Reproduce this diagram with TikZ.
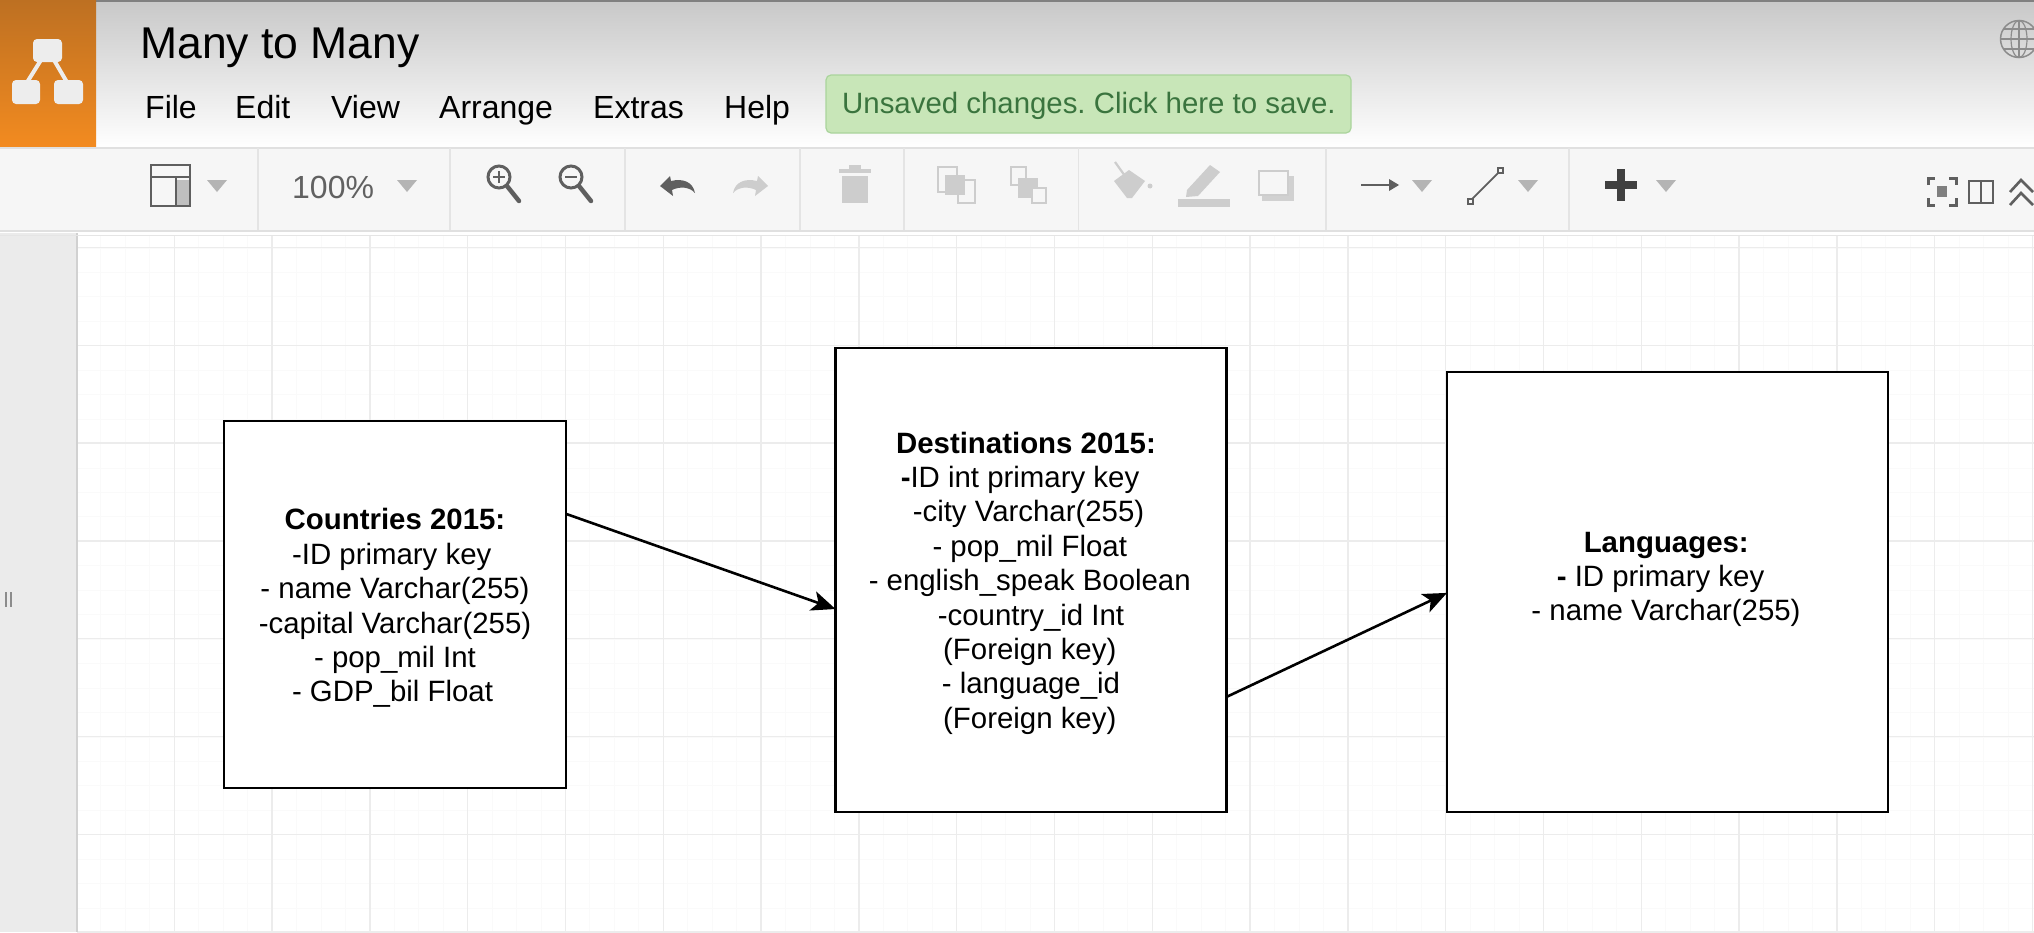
\documentclass[tikz,border=0pt]{standalone}
\usepackage{fontspec}
\setmainfont{Liberation Sans}
\usetikzlibrary{arrows.meta,calc}
\frenchspacing
\definecolor{gridmaj}{HTML}{ECECEC}
\definecolor{gridmin}{HTML}{FAFAFA}
\definecolor{icondark}{HTML}{5F5F5F}
\definecolor{iconlight}{HTML}{CDCDCD}
\definecolor{icontri}{HTML}{B4B4B4}
\definecolor{sepcol}{HTML}{E4E4E4}
\definecolor{logotop}{HTML}{BD7022}
\definecolor{logobot}{HTML}{F38B20}
\definecolor{badgefill}{HTML}{C8E6B8}
\definecolor{badgeline}{HTML}{AAD49C}
\definecolor{badgetext}{HTML}{3A743E}
\definecolor{headtop}{HTML}{C8C8C8}
\newcommand\firstdrop[1]{\rule{0pt}{#1pt}}
\newcommand\tr[1]{\mbox{\kern#1pt}}
\tikzset{
  tablebox/.style={draw=black,line width=2.8pt,fill=white,inner sep=0pt,outer sep=0pt,align=center,font=\fontsize{29.4}{34.4}\selectfont},
  relation/.style={draw=black,line width=2.6pt,-{Stealth[length=24pt,width=20pt,inset=6pt]}},
  menuitem/.style={anchor=base west,inner sep=0pt,font=\fontsize{32}{36}\selectfont,text=black},
  tri/.style={fill=icontri,draw=none},
  sep/.style={draw=sepcol,line width=1.2pt},
  idark/.style={draw=icondark,line width=3pt},
  ilight/.style={draw=iconlight,line width=3pt},
}
\begin{document}
\begin{tikzpicture}[x=1pt,y=-1pt]
\useasboundingbox (0,0) rectangle (2034,932);
\fill[white] (0,0) rectangle (2034,932);
% canvas grid
\foreach \k in {0,...,80} {
  \draw[gridmin,line width=1pt] ({76.5+24.45*\k},235) -- ({76.5+24.45*\k},932);
}
\foreach \k in {0,...,29} {
  \draw[gridmin,line width=1pt] (77,{248+24.45*\k}) -- (2034,{248+24.45*\k});
}
\foreach \k in {0,...,20} {
  \draw[gridmaj,line width=1.5pt] ({76.5+97.8*\k},235) -- ({76.5+97.8*\k},932);
}
\foreach \k in {0,...,7} {
  \draw[gridmaj,line width=1.5pt] (77,{247.5+97.8*\k}) -- (2034,{247.5+97.8*\k});
}
% left gutter
\fill[black!8] (0,233) rectangle (77,932);
\draw[black!18,line width=1.2pt] (77,233) -- (77,932);
\draw[black!45,line width=1.5pt] (6,592) -- (6,607) (11,592) -- (11,607);
% header
\shade[top color=headtop,bottom color=white] (0,0) rectangle (2034,148);
\fill[black!50] (0,0) rectangle (2034,2);
% logo
\shade[top color=logotop,bottom color=logobot] (0,0) rectangle (96,148);
\draw[white!93!black,line width=4pt] (41,60) -- (26,84) (54,60) -- (68,84);
\fill[white!93!black,rounded corners=4pt] (33,39) rectangle (62,62);
\fill[white!93!black,rounded corners=4pt] (12,80) rectangle (40,104);
\fill[white!93!black,rounded corners=4pt] (54,80) rectangle (83,104);
% title and menu
\node[anchor=base west,inner sep=0pt,font=\fontsize{44.5}{50}\selectfont] (title) at (140,58) {Many to Many};
\node[menuitem] (mfile) at (145,118) {File};
\node[menuitem] (medit) at (235,118) {Edit};
\node[menuitem] (mview) at (331,118) {View};
\node[menuitem] (marr) at (439,118) {Arrange};
\node[menuitem] (mext) at (593,118) {Extras};
\node[menuitem] (mhelp) at (724,118) {Help};
% badge
\draw[draw=badgeline,fill=badgefill,line width=1.2pt,rounded corners=5pt] (826,75) rectangle (1351,133);
\node[anchor=base west,inner sep=0pt,font=\fontsize{29.4}{32}\selectfont,text=badgetext] (badge) at (842,113) {Unsaved changes. Click here to save.};
% globe
\begin{scope}
\clip (1990,10) rectangle (2034,70);
\draw[black!45,line width=1.5pt] (2019,39) circle (18.5);
\draw[black!45,line width=1.2pt] (2019,39) ellipse (8 and 18.5);
\draw[black!45,line width=1.2pt] (2019,20.5) -- (2019,57.5) (2000.5,39) -- (2037,39) (2003,29) -- (2035,29) (2003,49) -- (2035,49);
\end{scope}
% toolbar
\fill[black!3.5] (0,148) rectangle (2034,230);
\draw[black!12,line width=1.2pt] (0,148) -- (2034,148);
\draw[black!12,line width=1.5pt] (0,231) -- (2034,231);
\draw[black!10,line width=1pt] (0,235) -- (2034,235);
\foreach \x in {258,450,625,800,904,1078.5,1326,1569} {\draw[sep] (\x,148) -- (\x,230);}
% layout icon
\fill[black!25] (176,180) rectangle (190,206);
\draw[draw=icondark,line width=2.4pt] (151,165) rectangle (190,206) (151,177) -- (190,177) (176,177) -- (176,206);
% triangles
\foreach \x in {207,397,1412,1518,1656} {\fill[tri] (\x,180) -- (\x+20,180) -- (\x+10,192) -- cycle;}
% zoom
\node[anchor=base west,inner sep=0pt,font=\fontsize{32}{36}\selectfont,text=black!62] (zoomlevel) at (292,198) {100\%};
\foreach \x in {499,571} {
  \draw[idark,line width=3pt] (\x,177) circle (11);
  \draw[idark,line width=4.5pt,line cap=round] (\x+8,186) -- (\x+20,201);
}
\draw[icondark,line width=2pt] (493,177) -- (505,177) (499,171) -- (499,183);
\draw[icondark,line width=2pt] (565,177) -- (577,177);
% undo redo
\fill[icondark] (660,186) -- (670,176) -- (671,181) .. controls (683,178) and (693,182) .. (695,193) .. controls (690,187) and (680,186) .. (672,190) -- (673,196) -- cycle;
\fill[iconlight] (768,186) -- (758,176) -- (757,181) .. controls (745,178) and (735,182) .. (733,193) .. controls (738,187) and (748,186) .. (756,190) -- (755,196) -- cycle;
% trash
\fill[iconlight] (842,176) rectangle (868,203);
\fill[iconlight] (839,169) rectangle (871,173);
\fill[iconlight] (849,165) rectangle (861,169);
% to front / to back
\draw[iconlight,line width=2pt] (938,167) rectangle (957,192);
\draw[iconlight,line width=2pt] (958,180) rectangle (975,203);
\fill[iconlight] (945,175) rectangle (965,195);
\draw[iconlight,line width=2pt] (1011,167) rectangle (1026,185);
\fill[iconlight] (1018,178) rectangle (1038,198);
\draw[iconlight,line width=2pt,fill=black!3.5] (1032,188) rectangle (1046,203);
% fill colour
\fill[iconlight] (1114,181) -- (1129,170) -- (1145,181) -- (1132,198) -- (1127,198) -- cycle;
\draw[iconlight,line width=2.2pt] (1115,162) -- (1135,190);
\fill[iconlight] (1150,186) circle (2.5);
% line colour
\fill[iconlight] (1187,190) -- (1210,165) -- (1220,172) -- (1198,196) -- (1186,197) -- cycle;
\fill[iconlight] (1178,199) rectangle (1230,207);
% shadow
\fill[black!18] (1262,176) rectangle (1294,201);
\draw[iconlight,line width=2.6pt,fill=black!3.5] (1259,171) rectangle (1288,195);
% connection arrow
\draw[draw=icondark,line width=2.4pt] (1361,185) -- (1392,185);
\fill[icondark] (1399,185) -- (1389,179) -- (1389,191) -- cycle;
% waypoints
\draw[icondark,line width=1.8pt] (1472,199) -- (1499,172);
\draw[icondark,line width=1.6pt,fill=black!3.5] (1468,199) rectangle (1473,204) (1498,168) rectangle (1503,173);
% plus
\fill[black!75] (1617,169) rectangle (1625,201);
\fill[black!75] (1605,181) rectangle (1637,189);
% right icons
\draw[icondark,line width=3pt] (1928,185) -- (1928,178) -- (1935,178) (1949,178) -- (1956,178) -- (1956,185) (1928,198) -- (1928,205) -- (1935,205) (1949,205) -- (1956,205) -- (1956,198);
\fill[icondark!80] (1937,186) rectangle (1947,197);
\draw[icondark,line width=2pt] (1969,181) rectangle (1993,203) (1981,181) -- (1981,203);
\draw[icondark,line width=2.6pt] (2010,192) -- (2021,180) -- (2033,192) (2010,205) -- (2021,193) -- (2033,205);
% diagram
\node[tablebox,minimum width=342pt,minimum height=367pt] (countries) at (395,604.5) {\firstdrop{28.5}\textbf{Countries 2015:}\\-ID primary key\tr{6.5}\\- name Varchar(255)\\-capital Varchar(255)\\- pop\_mil Int\\- GDP\_bil Float\tr{5}};
\node[tablebox,minimum width=391pt,minimum height=464pt] (destinations) at (1031,580) {\firstdrop{27.5}\textbf{Destinations 2015:}\tr{10}\\\textbf{-}ID int primary key\tr{22}\\-city Varchar(255)\tr{5}\\- pop\_mil Float\tr{2.5}\\- english\_speak Boolean\tr{2.5}\\-country\_id Int\\(Foreign key)\tr{2.5}\\- language\_id\\(Foreign key)\tr{2.5}};
\node[tablebox,minimum width=441pt,minimum height=440pt] (languages) at (1667.5,592) {\firstdrop{23.5}\textbf{Languages:}\tr{2.5}\\\textbf{-} ID primary key\tr{14}\\- name Varchar(255)\tr{3}\\\mbox{}};
\draw[relation] ($(countries.north east)!.253!(countries.south east)$) -- ($(destinations.north west)!.5625!(destinations.south west)$);
\draw[relation] ($(destinations.north east)!.752!(destinations.south east)$) -- ($(languages.north west)!.502!(languages.south west)$);
\end{tikzpicture}
\end{document}
